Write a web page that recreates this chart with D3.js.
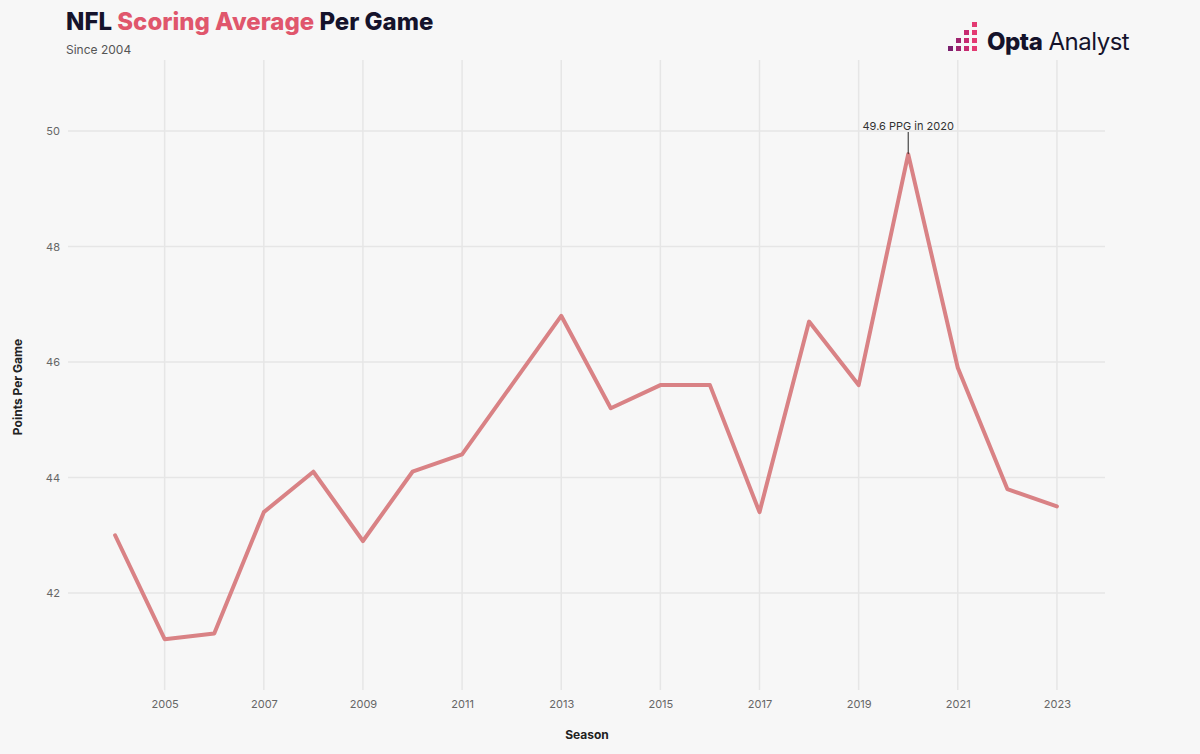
<!DOCTYPE html>
<html><head><meta charset="utf-8">
<script src="https://cdn.jsdelivr.net/npm/d3@7"></script>
<style>
html,body{margin:0;padding:0;background:#f7f7f7;}
svg{display:block;font-family:Inter, "Noto Sans", sans-serif;}
</style></head>
<body>
<svg id="c" width="1200" height="754"></svg>
<script>
const seasons = [2004,2005,2006,2007,2008,2009,2010,2011,2012,2013,2014,2015,2016,2017,2018,2019,2020,2021,2022,2023];
const pointsPerGame = [43.0,41.2,41.3,43.4,44.1,42.9,44.1,44.4,45.6,46.8,45.2,45.6,45.6,43.4,46.7,45.6,49.6,45.9,43.8,43.5];
const xTicks = [2005,2007,2009,2011,2013,2015,2017,2019,2021,2023];
const yTicks = [42,44,46,48,50];
const annotationText = "49.6 PPG in 2020";

const svg = d3.select("#c");
const x = d3.scaleLinear().domain([2003.05, 2023.97]).range([68, 1105]);
const y = d3.scaleLinear().domain([40.32, 51.23]).range([690, 60]);

svg.append("rect").attr("width",1200).attr("height",754).attr("fill","#f7f7f7");

// grid
svg.append("g").selectAll("line").data(yTicks).join("line")
  .attr("x1",68).attr("x2",1105).attr("y1",d=>y(d)).attr("y2",d=>y(d))
  .attr("stroke","#e6e6e6").attr("stroke-width",1.5);
svg.append("g").selectAll("line").data(xTicks).join("line")
  .attr("x1",d=>x(d)).attr("x2",d=>x(d)).attr("y1",60).attr("y2",690)
  .attr("stroke","#e6e6e6").attr("stroke-width",1.5);

// axes
const yAxis = svg.append("g").attr("transform","translate(60,0)")
  .call(d3.axisLeft(y).tickValues(yTicks).tickSize(0).tickPadding(0));
yAxis.select(".domain").remove();
yAxis.selectAll("text").attr("fill","#666").attr("font-size",11).attr("font-family","Inter, sans-serif");

const xAxis = svg.append("g").attr("transform","translate(0,700)")
  .call(d3.axisBottom(x).tickValues(xTicks).tickFormat(d3.format("d")).tickSize(0).tickPadding(0));
xAxis.select(".domain").remove();
xAxis.selectAll("text").attr("fill","#666").attr("font-size",11).attr("font-family","Inter, sans-serif");

// axis titles
svg.append("text").attr("x",587).attr("y",739).attr("text-anchor","middle")
  .attr("font-size",12).attr("font-weight",700).attr("fill","#222").text("Season");
svg.append("text").attr("transform","translate(22,387) rotate(-90)").attr("text-anchor","middle")
  .attr("font-size",12).attr("font-weight",700).attr("fill","#222").text("Points Per Game");

// line
const line = d3.line().x((d,i)=>x(seasons[i])).y(d=>y(d));
svg.append("path").datum(pointsPerGame).attr("d",line)
  .attr("fill","none").attr("stroke","#d98285").attr("stroke-width",4)
  .attr("stroke-linejoin","round").attr("stroke-linecap","round");

// annotation
const peakI = pointsPerGame.indexOf(d3.max(pointsPerGame));
svg.append("line").attr("x1",x(seasons[peakI])).attr("x2",x(seasons[peakI]))
  .attr("y1",y(50)+1).attr("y2",y(pointsPerGame[peakI])).attr("stroke","#222").attr("stroke-width",1);
svg.append("text").attr("x",x(seasons[peakI])).attr("y",y(50)-1).attr("text-anchor","middle")
  .attr("font-size",11).attr("fill","#333").text(annotationText);

// title
const t = svg.append("text").attr("x",66).attr("y",30).attr("font-size",24).attr("font-weight",800);
t.append("tspan").attr("fill","#15132b").text("NFL ");
t.append("tspan").attr("fill","#e0566c").text("Scoring Average");
t.append("tspan").attr("fill","#15132b").text(" Per Game");
svg.append("text").attr("x",66).attr("y",54).attr("font-size",12).attr("fill","#555").text("Since 2004");

// logo
const logo = svg.append("g");
const sq = [[0,3],[1,3],[2,3],[3,3],[1,2],[2,2],[3,2],[2,1],[3,1],[3,0]];
const cols = ["#7a1f6e","#a0246f","#c72a70","#e33a72"];
logo.selectAll("rect").data(sq).join("rect")
  .attr("x",d=>948+d[0]*8).attr("y",d=>22+d[1]*8).attr("width",5).attr("height",5)
  .attr("fill",d=>cols[d[0]]);
const lt = svg.append("text").attr("x",987).attr("y",50).attr("font-size",24).attr("fill","#15132b").attr("letter-spacing",-0.5);
lt.append("tspan").attr("font-weight",800).text("Opta");
lt.append("tspan").attr("font-weight",400).text(" Analyst");
</script>
</body></html>
